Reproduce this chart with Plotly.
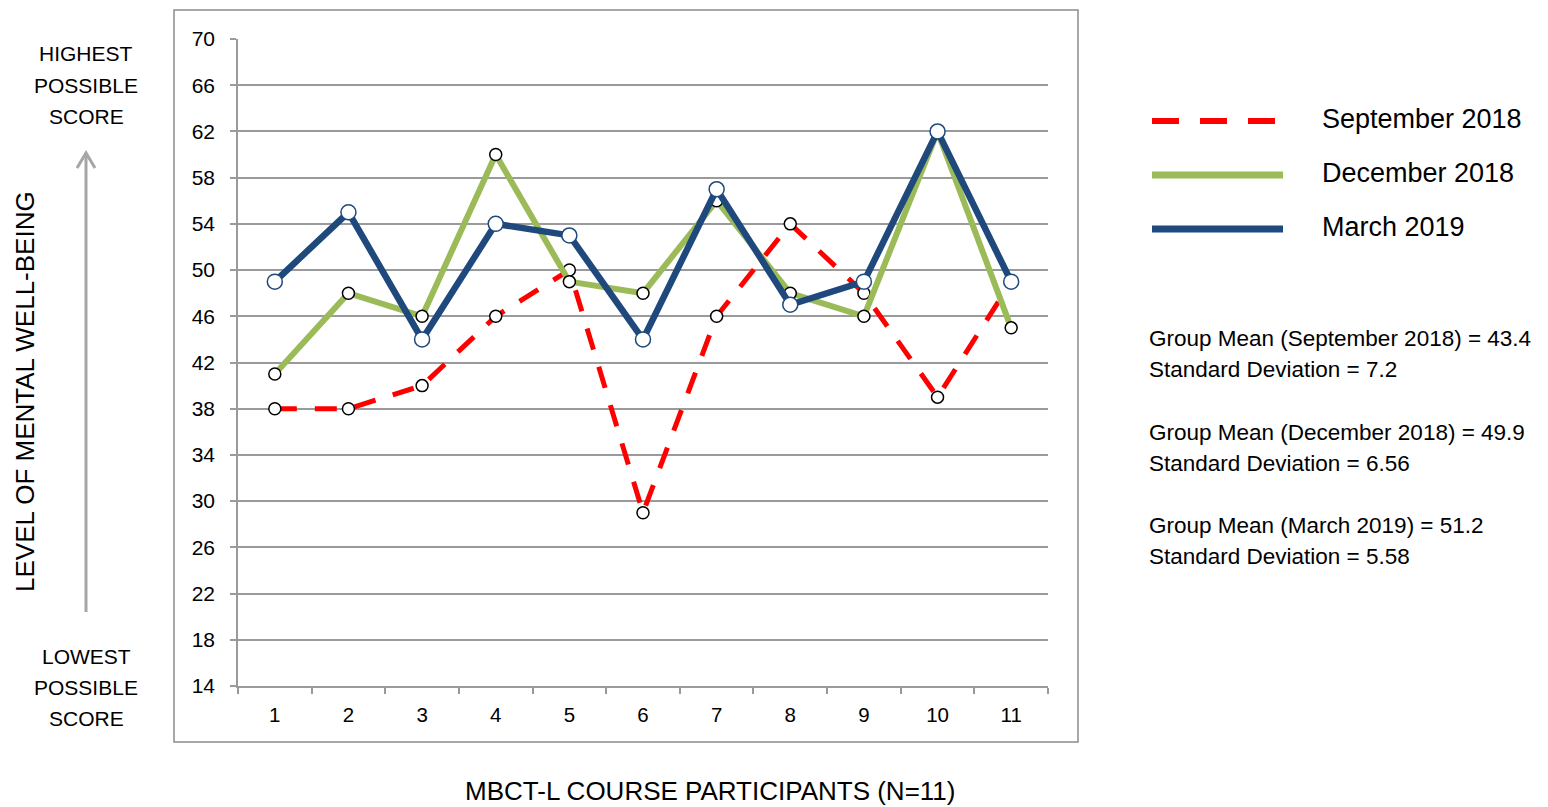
import plotly.graph_objects as go

# Participant scores on the mental well-being scale at three time points
participants = ["1", "2", "3", "4", "5", "6", "7", "8", "9", "10", "11"]
sept_2018 = [38, 38, 40, 46, 50, 29, 46, 54, 48, 39, 49]
dec_2018 = [41, 48, 46, 60, 49, 48, 56, 48, 46, 62, 45]
mar_2019 = [49, 55, 44, 54, 53, 44, 57, 47, 49, 62, 49]

series_names = ["September 2018", "December 2018", "March 2019"]
y_ticks = [14, 18, 22, 26, 30, 34, 38, 42, 46, 50, 54, 58, 62, 66, 70]

stats_lines = [
    "Group Mean (September 2018) = 43.4",
    "Standard Deviation = 7.2",
    "Group Mean (December 2018) = 49.9",
    "Standard Deviation = 6.56",
    "Group Mean (March 2019) = 51.2",
    "Standard Deviation = 5.58",
]

W, H = 1548, 807
L, R, T, B = 238, 1048, 39, 686  # plot area in pixels

FONT = "Liberation Sans, Arial, sans-serif"
RED, GREEN, BLUE = "#FF0000", "#9BBB59", "#1F497D"
GRID = "#9A9A9A"


def px_x(x):
    return (x - L) / (R - L)


def px_y(y):
    return (B - y) / (B - T)


fig = go.Figure()

fig.add_trace(go.Scatter(
    x=participants, y=sept_2018, name=series_names[0], mode="lines+markers",
    line=dict(color=RED, width=5, dash="22px,18px"),
    marker=dict(size=12, color="white", line=dict(color="black", width=1.5)),
))
fig.add_trace(go.Scatter(
    x=participants, y=dec_2018, name=series_names[1], mode="lines+markers",
    line=dict(color=GREEN, width=6),
    marker=dict(size=12, color="white", line=dict(color="black", width=1.5)),
))
fig.add_trace(go.Scatter(
    x=participants, y=mar_2019, name=series_names[2], mode="lines+markers",
    line=dict(color=BLUE, width=6.5),
    marker=dict(size=15, color="white", line=dict(color=BLUE, width=1.5)),
))

shapes = []
annotations = []

# outer chart frame
shapes.append(dict(type="rect", xref="paper", yref="paper",
                   x0=px_x(174), x1=px_x(1078), y0=px_y(742), y1=px_y(10),
                   line=dict(color="#8C8C8C", width=1.5), layer="below"))

# legend samples
legend_rows = [(121, RED, 6, "27px,21px"), (175, GREEN, 7, "solid"), (229, BLUE, 7, "solid")]
for (yy, col, wd, dash), name in zip(legend_rows, series_names):
    shapes.append(dict(type="line", xref="paper", yref="paper",
                       x0=px_x(1152), x1=px_x(1283), y0=px_y(yy), y1=px_y(yy),
                       line=dict(color=col, width=wd, dash=dash)))
    annotations.append(dict(xref="paper", yref="paper", x=px_x(1320), y=px_y(yy - 2),
                            text=name, showarrow=False, xanchor="left", yanchor="middle",
                            font=dict(family=FONT, size=27, color="black")))

# summary statistics
for yy, txt in zip([338, 369, 432, 463, 525, 556], stats_lines):
    annotations.append(dict(xref="paper", yref="paper", x=px_x(1147), y=px_y(yy),
                            text=txt, showarrow=False, xanchor="left", yanchor="middle",
                            font=dict(family=FONT, size=22.5, color="black")))

# scale end labels
for yy, txt in zip([54, 85, 116, 656, 687, 718],
                   ["HIGHEST", "POSSIBLE", "SCORE", "LOWEST", "POSSIBLE", "SCORE"]):
    annotations.append(dict(xref="paper", yref="paper", x=px_x(86), y=px_y(yy),
                            text=txt, showarrow=False, xanchor="center", yanchor="middle",
                            font=dict(family=FONT, size=21, color="black")))

# upward arrow between the scale labels
shapes.append(dict(type="line", xref="paper", yref="paper",
                   x0=px_x(86), x1=px_x(86), y0=px_y(612), y1=px_y(153),
                   line=dict(color="#A6A6A6", width=3)))
shapes.append(dict(type="path", xref="paper", yref="paper",
                   path=f"M {px_x(77)} {px_y(168)} L {px_x(86)} {px_y(153)} L {px_x(95)} {px_y(168)}",
                   line=dict(color="#A6A6A6", width=3)))

# axis titles
annotations.append(dict(xref="paper", yref="paper", x=px_x(25), y=px_y(392),
                        text="LEVEL OF MENTAL WELL-BEING", textangle=-90, showarrow=False,
                        xanchor="center", yanchor="middle",
                        font=dict(family=FONT, size=26, color="black")))
annotations.append(dict(xref="paper", yref="paper", x=px_x(710), y=px_y(791),
                        text="MBCT-L COURSE PARTICIPANTS (N=11)", showarrow=False,
                        xanchor="center", yanchor="middle",
                        font=dict(family=FONT, size=26, color="black")))

fig.update_layout(
    width=W, height=H,
    margin=dict(l=L, r=W - R, t=T, b=H - B, pad=0),
    paper_bgcolor="white", plot_bgcolor="white",
    showlegend=False,
    shapes=shapes, annotations=annotations,
    font=dict(family=FONT, color="black"),
    xaxis=dict(
        type="category", categoryarray=participants, range=[-0.5, 10.5],
        showgrid=False, zeroline=False,
        showline=True, linecolor=GRID, linewidth=1.5,
        ticks="outside", tickson="boundaries", ticklen=6, tickcolor=GRID, tickwidth=1.5,
        tickfont=dict(family=FONT, size=20.5, color="black"), ticklabelstandoff=10,
    ),
    yaxis=dict(
        range=[14, 70], tickvals=y_ticks, ticktext=[str(v) for v in y_ticks],
        showgrid=True, gridcolor=GRID, gridwidth=1.5, zeroline=False,
        showline=True, linecolor=GRID, linewidth=1.5,
        ticks="outside", ticklen=6, tickcolor=GRID, tickwidth=1.5,
        tickfont=dict(family=FONT, size=21, color="black"), ticklabelstandoff=11,
    ),
)

fig.write_html("out.html")
